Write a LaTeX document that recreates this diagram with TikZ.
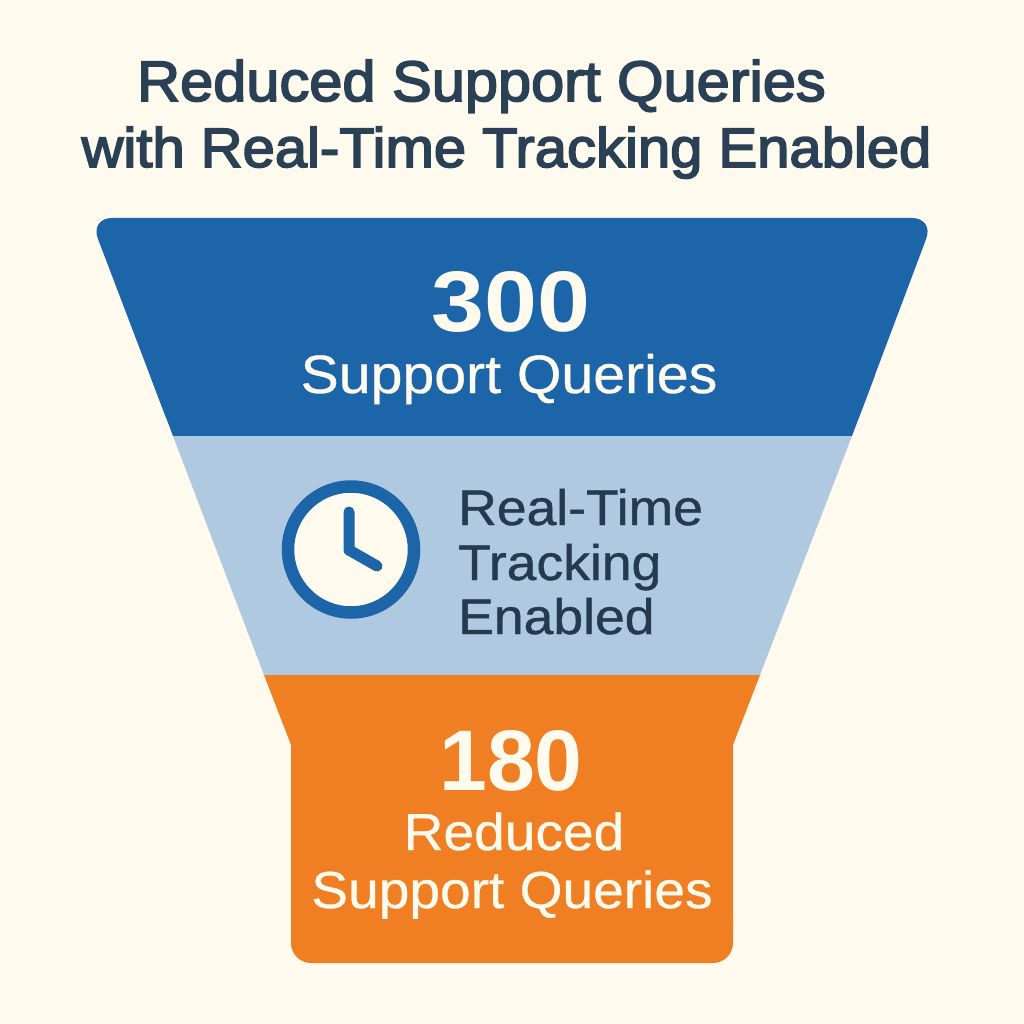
\documentclass[tikz,border=0pt]{standalone}
\usepackage{fontspec}
\setmainfont{Liberation Sans}
\newfontfamily\semi[FakeBold=3,FakeStretch=1.045]{Liberation Sans}
\newfontfamily\labelf[FakeBold=0.6,FakeStretch=1.06]{Liberation Sans}
\newfontfamily\midf[FakeBold=0.8,FakeStretch=1.07]{Liberation Sans}
\newfontfamily\numf[FakeStretch=1.106]{Liberation Sans}
\newfontfamily\numg{Liberation Sans}
\definecolor{bgc}{HTML}{FFFAEE}
\definecolor{navy}{HTML}{1C65A9}
\definecolor{pale}{HTML}{AFC9E0}
\definecolor{orangec}{HTML}{F07F24}
\definecolor{ink}{HTML}{2A4055}
\definecolor{inkmid}{HTML}{233A4F}
\tikzset{
 titletext/.style={text=ink,font=\semi\fontsize{55.5}{56}\selectfont,anchor=base,inner sep=0pt},
 titletexttop/.style={text=ink,font=\semi\fontsize{57}{57}\selectfont,anchor=base,inner sep=0pt},
 numtext/.style={text=bgc,font=\numf\bfseries\fontsize{86}{86}\selectfont,anchor=base,inner sep=0pt},
 numtexttwo/.style={text=bgc,font=\numg\bfseries\fontsize{86}{86}\selectfont,anchor=base,inner sep=0pt},
 whitetext/.style={text=bgc,font=\labelf\fontsize{54}{54}\selectfont,anchor=base,inner sep=0pt},
 whitetexttwo/.style={text=bgc,font=\labelf\fontsize{52}{52}\selectfont,anchor=base,inner sep=0pt},
 darktext/.style={text=inkmid,font=\midf\fontsize{50}{50}\selectfont,anchor=base west,inner sep=0pt},
 hand/.style={draw=navy,line width=11pt,line cap=round,line join=round}
}
\begin{document}
\begin{tikzpicture}[x=1pt,y=-1pt]
\useasboundingbox (0,0) rectangle (1024,1024);
\fill[bgc] (0,0) rectangle (1024,1024);
% funnel
\fill[navy,rounded corners=22pt] (173,436) -- (90,218) -- (934,218) -- (852,436) -- cycle;
\fill[navy] (173,436) -- (150,375) -- (875,375) -- (852,436) -- cycle;
\fill[pale] (173,436) -- (852,436) -- (760,675) -- (264,675) -- cycle;
\fill[orangec,rounded corners=20pt] (291,900) -- (291,963) -- (733,963) -- (733,900) -- cycle;
\fill[orangec] (264,675) -- (760,675) -- (733,745) -- (733,930) -- (291,930) -- (291,745) -- cycle;
% clock
\node[circle,draw=navy,fill=bgc,line width=12.5pt,minimum size=126pt,inner sep=0pt] (clock) at (351,549.5) {};
\coordinate (h1) at (349,512);
\coordinate (hub) at (349,550);
\coordinate (h2) at (377,566);
\draw[hand] (h1) -- (hub) -- (h2);
% text
\node[titletexttop] (t1) at (481.5,101) {Reduced Support Queries};
\node[titletext] (t2) at (506.5,167) {with Real-Time Tracking Enabled};
\node[numtext] (n1) at (511,331) {300};
\node[whitetext] (l1) at (509,393) {Support Queries};
\node[darktext] (m1) at (458,525) {Real-Time};
\node[darktext] (m2) at (458,580) {Tracking};
\node[darktext] (m3) at (458,634) {Enabled};
\node[numtexttwo] (n2) at (511,790) {180};
\node[whitetexttwo] (l2) at (514,850) {Reduced};
\node[whitetexttwo] (l3) at (512,908) {Support Queries};
\end{tikzpicture}
\end{document}
